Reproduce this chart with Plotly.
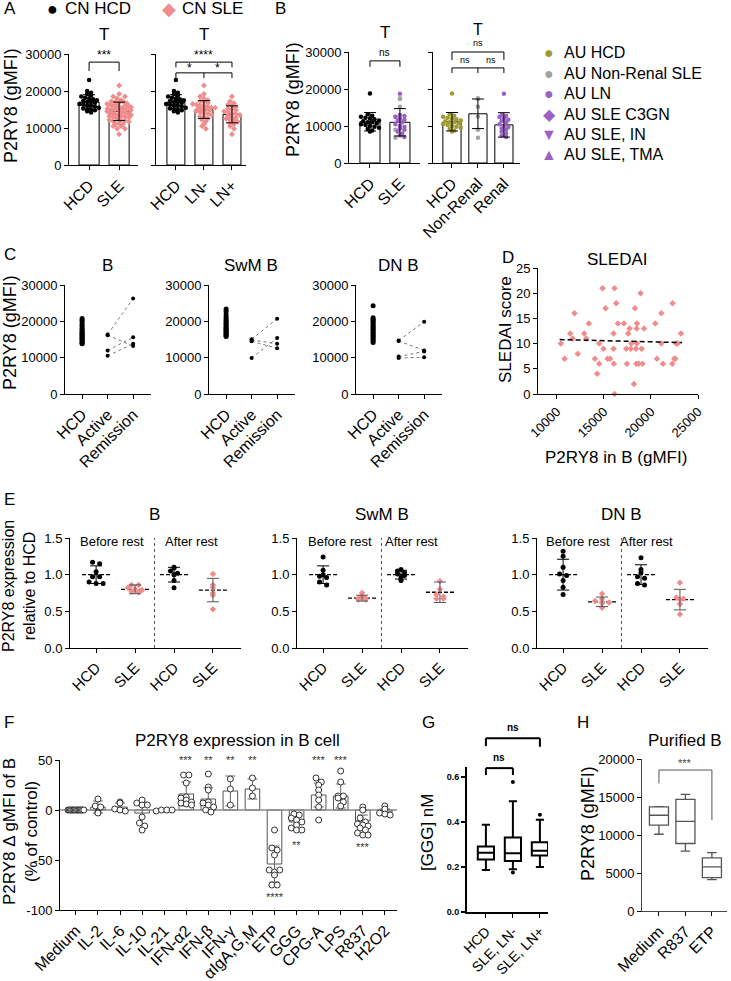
import numpy as np
import plotly.graph_objects as go

W, H = 731, 981
FONT = "Liberation Sans, Arial, sans-serif"
NARROW = "Liberation Sans Narrow, Liberation Sans, Arial, sans-serif"
PINK = "#F08C8C"
OLIVE = "#9E9B35"
GREY = "#A3A3A3"
PURPLE = "#9B62C4"

# ---------------- data ----------------
# Panel A : CN cohort, T cells (gMFI)
A_HCD = [23000, 20000, 19500, 19200, 18800, 18500, 18200, 18000, 17800, 17500, 17300, 17000, 17000,
         16800, 16500, 16300, 16000, 16000, 15800, 15500, 15300, 15000, 15000, 14800, 14500, 14200]
A_LN_NEG = [21500, 19200, 18500, 18000, 17500, 17200, 17000, 16800, 16500, 16300, 16000, 16000, 15800,
            15500, 15500, 15200, 15000, 15000, 14800, 14500, 14300, 14000, 13800, 13500, 13200, 13000,
            12600, 12200, 11800, 11000, 10500, 9800]
A_LN_POS = [18500, 17200, 16700, 16300, 16000, 15600, 15300, 15000, 14800, 14500, 14300, 14000, 13800,
            13500, 13300, 13000, 12800, 12500, 12200, 12000, 11700, 11300, 11000, 10500, 9800, 8300]
A1_CATS = ["HCD", "SLE"]
A1_MEAN = [17000, 14500]
A1_SD = [2000, 2500]
A2_CATS = ["HCD", "LN-", "LN+"]
A2_MEAN = [17000, 15000, 13700]
A2_SD = [2000, 2400, 2300]

# Panel B : AU cohort, T cells (gMFI)
B_HCD = [18800, 13200, 12800, 12500, 12200, 12000, 11800, 11500, 11300, 11000, 11000, 10700, 10500,
         10300, 10000, 9800, 9500, 9200, 8800, 8500]
B_NONRENAL = [17500, 17300, 15200, 12600, 9000, 6800]
B_RENAL = [18700, 13000, 12700, 12400, 12000, 11700, 11400, 11000, 10500, 10000, 9700, 9300, 9000,
           8500, 8000, 7400, 7000]
B1_CATS = ["HCD", "SLE"]
B1_MEAN = [11150, 11000]
B1_SD = [2500, 3700]
B2_CATS = ["HCD", "Non-Renal", "Renal"]
B2_MEAN = [11150, 13300, 10300]
B2_SD = [2500, 4000, 3300]
LEGEND_B = [("●", OLIVE, "AU HCD"), ("●", GREY, "AU Non-Renal SLE"), ("●", PURPLE, "AU LN"),
            ("◆", PURPLE, "AU SLE C3GN"), ("▼", PURPLE, "AU SLE, IN"), ("▲", PURPLE, "AU SLE, TMA")]

# Panel C : paired active / remission
C_CATS = ["HCD", "Active", "Remission"]
C_TITLES = ["B", "SwM B", "DN B"]
C_HCD = [
    [20800, 20300, 19800, 19200, 18700, 18200, 17800, 17400, 17000, 16700, 16400, 16100, 15800, 15500,
     15200, 14900, 14600, 14300, 14000, 13800],
    [23400, 22800, 22000, 21300, 20800, 20300, 19900, 19500, 19100, 18700, 18400, 18100, 17800, 17500,
     17200, 16900, 16600, 16300, 16000, 15800],
    [24300, 21000, 20600, 20200, 19800, 19400, 19000, 18600, 18200, 17800, 17400, 17000, 16600, 16200,
     15800, 15400, 15000, 14600, 14200],
]
C_ACTIVE = [[16400, 16200, 12000, 10500], [15100, 14900, 14500, 9900], [14700, 14600, 10300, 9900]]
C_REMISSION = [[26300, 13200, 15600, 13800], [20700, 13800, 12600, 15400], [19900, 12000, 11700, 10100]]

# Panel D : SLEDAI vs P2RY8
D_X = [10430, 10820, 11420, 11670, 11880, 12230, 12910, 13120,
       13400, 14040, 14290, 14500, 14500, 14860, 14960, 15180,
       15390, 15670, 16030, 16030, 16060, 16130, 16130, 16310,
       16490, 17130, 17380, 17450, 17590, 17730, 17840, 17910,
       18190, 18300, 18400, 18480, 18510, 18510, 18440, 18690,
       18900, 19010, 19110, 19260, 20460, 20640, 21100, 21100,
       21280, 22270, 22300, 22480, 22590, 22660, 22840, 23190]
D_Y = [10, 7, 12, 11, 16, 8, 12, 11,
       14, 7, 4, 6, 10, 21, 9, 17,
       7, 7, 12, 9, 6, 21, 0, 18,
       14, 14, 9, 6, 12, 13, 9, 10,
       2, 17, 9, 13, 10, 14, 6, 6,
       20, 9, 6, 13, 14, 7, 16, 10,
       6, 6, 18, 7, 7, 10, 10, 12]
D_FIT_X = [10300, 23300]
D_FIT_Y = [10.8, 10.2]

# Panel E : relative expression before / after rest
E_TITLES = ["B", "SwM B", "DN B"]
E_CATS = ["HCD", "SLE", "HCD", "SLE"]
E_B = [[1.17, 1.15, 1.04, 0.97, 0.97, 0.90, 0.88, 0.88], [0.86, 0.86, 0.82, 0.80, 0.79, 0.77, 0.76],
       [1.10, 1.09, 1.05, 1.02, 1.00, 0.92, 0.82], [1.01, 0.86, 0.82, 0.75, 0.72, 0.53]]
E_B_MEAN = [1.0, 0.80, 1.0, 0.79]
E_B_SD = [0.12, 0.06, 0.10, 0.16]
E_SWM = [[1.24, 1.06, 1.00, 0.98, 0.96, 0.90, 0.86], [0.75, 0.71, 0.68, 0.68, 0.66, 0.66],
         [1.07, 1.05, 1.03, 1.01, 0.99, 0.96, 0.92], [0.91, 0.80, 0.73, 0.70, 0.67, 0.67]]
E_SWM_MEAN = [1.0, 0.68, 1.0, 0.76]
E_SWM_SD = [0.12, 0.04, 0.06, 0.14]
E_DN = [[1.32, 1.25, 1.10, 1.01, 0.99, 0.92, 0.83, 0.73], [0.74, 0.67, 0.64, 0.63, 0.62, 0.61, 0.55],
        [1.23, 1.07, 1.03, 0.97, 0.95, 0.88, 0.86], [0.89, 0.69, 0.67, 0.66, 0.60, 0.46]]
E_DN_MEAN = [1.0, 0.63, 1.0, 0.66]
E_DN_SD = [0.21, 0.065, 0.135, 0.14]

# Panel F : stimulation
F_CATS = ["Medium", "IL-2", "IL-6", "IL-10", "IL-21", "IFN-α2", "IFN-β", "IFN-γ", "αIgA,G,M",
          "ETP", "GGG", "CPG-A", "LPS", "R837", "H2O2"]
F_MEAN = [0, 3, 3, -3, -1, 16, 11, 19, 21, -54, -12, 15, 14, -11, -2]
F_SD = [0, 6, 4, 11, 1, 12, 11, 15, 10, 18, 7, 12, 12, 6, 3]
F_MEDIUM = [0] * 14
F_IL2 = [11, 4, 3, -2, -3]
F_IL6 = [8, 7, 1, 0, -1]
F_IL10 = [10, 7, 5, 5, -7, -13, -16, -20]
F_IL21 = [-1, 0, 0, 0]
F_IFNA2 = [35, 35, 27, 13, 12, 10, 8, 7, 6, 5]
F_IFNB = [36, 23, 20, 8, 7, 5, 3, 0, -2]
F_IFNG = [31, 21, 5]
F_AIG = [32, 22, 14]
F_ETP = [-20, -38, -40, -45, -60, -62, -60, -65, -75, -75]
F_GGG = [-4, -5, -8, -10, -12, -15, -18, -20, -20]
F_CPGA = [32, 28, 25, 20, 15, 10, 3, -10]
F_LPS = [39, 28, 14, 14, 12, 8, 4]
F_R837 = [3, 0, -8, -12, -14, -15, -16, -18, -20, -23, -25, -25]
F_H2O2 = [4, 1, -3, -4, -5]
F_POINTS = [F_MEDIUM, F_IL2, F_IL6, F_IL10, F_IL21, F_IFNA2, F_IFNB, F_IFNG, F_AIG, F_ETP, F_GGG,
            F_CPGA, F_LPS, F_R837, F_H2O2]
F_SIG_TOP = {5: "***", 6: "**", 7: "**", 8: "**", 11: "***", 12: "***"}
F_SIG_BOTTOM = {9: ("****", -87), 10: ("**", -35), 13: ("***", -37)}

# Panel G : [GGG] nM box plot
G_CATS = ["HCD", "SLE, LN-", "SLE, LN+"]
G_Q1 = [0.234, 0.227, 0.251]
G_MED = [0.264, 0.261, 0.273]
G_Q3 = [0.291, 0.331, 0.310]
G_LO = [0.187, 0.190, 0.200]
G_HI = [0.388, 0.493, 0.410]
G_OUT_X = [1, 1, 2]
G_OUT_Y = [0.578, 0.176, 0.433]

# Panel H : purified B
H_CATS = ["Medium", "R837", "ETP"]
H_Q1 = [11300, 8880, 4400]
H_MED = [12600, 11800, 5800]
H_Q3 = [13700, 14700, 7000]
H_LO = [10100, 7870, 4130]
H_HI = [13720, 15340, 7690]

# ---------------- helpers ----------------
fig = go.Figure()
fig.update_layout(width=W, height=H, margin=dict(l=0, r=0, t=0, b=0, pad=0, autoexpand=False),
                  autosize=False, template="none",
                  paper_bgcolor="white", plot_bgcolor="white", showlegend=False,
                  font=dict(family=FONT, color="black"))

AX = {}
BASE = dict(showline=True, linecolor="black", linewidth=1, ticks="outside", ticklen=4, tickwidth=1,
            tickcolor="black", showgrid=False, zeroline=False, fixedrange=True, automargin=False,
            mirror=False, tickfont=dict(size=13, family=FONT, color="black"))


def axes(key, box, xr, yr, xo=None, yo=None):
    n = len(AX) + 1
    s = "" if n == 1 else str(n)
    x0, x1, y0, y1 = box
    xa = dict(BASE, domain=[x0 / W, x1 / W], anchor="y" + s, range=list(xr))
    ya = dict(BASE, domain=[1 - y1 / H, 1 - y0 / H], anchor="x" + s, range=list(yr))
    if xo:
        xa.update(xo)
    if yo:
        ya.update(yo)
    fig.update_layout({"xaxis" + s: xa, "yaxis" + s: ya})
    AX[key] = (box, xr, yr, "x" + s, "y" + s)
    return "x" + s, "y" + s


def to_paper(key, x, y):
    (x0, x1, y0, y1), xr, yr, _, _ = AX[key]
    px = x0 + (x - xr[0]) / (xr[1] - xr[0]) * (x1 - x0)
    py = y1 - (y - yr[0]) / (yr[1] - yr[0]) * (y1 - y0)
    return px / W, 1 - py / H


def text_px(px, py, s, size=13, xanchor="center", yanchor="middle", angle=0, color="black", family=FONT):
    fig.add_annotation(x=px / W, y=1 - py / H, xref="paper", yref="paper", text=s, showarrow=False,
                       font=dict(size=size, color=color, family=family), xanchor=xanchor,
                       yanchor=yanchor, textangle=angle, borderpad=0)


def text_data(key, x, y, s, size=11, color="black", family=FONT, yanchor="middle"):
    px, py = to_paper(key, x, y)
    fig.add_annotation(x=px, y=py, xref="paper", yref="paper", text=s, showarrow=False,
                       font=dict(size=size, color=color, family=family), xanchor="center",
                       yanchor=yanchor, borderpad=0)


def seg(key, xa_, ya_, xb_, yb_, color="black", width=1):
    p1 = to_paper(key, xa_, ya_)
    p2 = to_paper(key, xb_, yb_)
    fig.add_shape(type="line", xref="paper", yref="paper", x0=p1[0], y0=p1[1], x1=p2[0], y1=p2[1],
                  line=dict(color=color, width=width))


def bracket(key, xa_, xb_, yline, yleg_a, yleg_b, color="black", width=1, mids=()):
    seg(key, xa_, yleg_a, xa_, yline, color, width)
    seg(key, xa_, yline, xb_, yline, color, width)
    seg(key, xb_, yline, xb_, yleg_b, color, width)
    for xm in mids:
        seg(key, xm, yline, xm, yleg_b, color, width)


def swarm(vals, center, binsize, dx, maxw=0.4):
    v = np.asarray(vals, float)
    bins = np.round(v / binsize).astype(int)
    xs = np.full(len(v), float(center))
    for b in np.unique(bins):
        idx = np.where(bins == b)[0]
        k = len(idx)
        d = dx
        if k > 1 and (k - 1) * d / 2 > maxw:
            d = 2 * maxw / (k - 1)
        xs[idx] = center + (np.arange(k) - (k - 1) / 2) * d
    return xs


def cat_x(cats, size=16):
    return dict(tickvals=list(range(len(cats))), ticktext=cats, tickangle=-45,
                tickfont=dict(size=size, family=FONT, color="black"))


def points(xr, yr, xs, ys, color, symbol="circle", size=5, line=None):
    m = dict(color=color, size=size, symbol=symbol)
    if line:
        m["line"] = line
    fig.add_trace(go.Scatter(x=xs, y=ys, mode="markers", marker=m, cliponaxis=False,
                             xaxis=xr, yaxis=yr, hoverinfo="skip"))


def errbars(xr, yr, xs, means, sds, color="black", width=6, thickness=1):
    fig.add_trace(go.Scatter(x=xs, y=means, mode="markers",
                             marker=dict(color="rgba(0,0,0,0)", size=1),
                             error_y=dict(type="data", array=sds, color=color, thickness=thickness,
                                          width=width),
                             xaxis=xr, yaxis=yr, hoverinfo="skip"))


def bars(xr, yr, xs, means, width, line_color="black"):
    fig.add_trace(go.Bar(x=xs, y=means, width=width,
                         marker=dict(color="white", line=dict(color=line_color, width=1)),
                         xaxis=xr, yaxis=yr, hoverinfo="skip"))


GMFI_Y = dict(tickvals=[0, 10000, 20000, 30000], tickformat="d")

# ---------------- Panel A ----------------
text_px(3, 8, "A", 17, xanchor="left")
text_px(52, 9, "●", 18)
text_px(64, 9, "CN HCD", 17, xanchor="left")
text_px(169, 9, "◆", 18, color=PINK)
text_px(181, 9, "CN SLE", 17, xanchor="left")
text_px(11, 106, "P2RY8 (gMFI)", 18, angle=-90)

xa, ya = axes("A1", (69, 138, 54, 165), (-0.67, 1.63), (0, 30000), xo=cat_x(A1_CATS), yo=GMFI_Y)
bars(xa, ya, [0, 1], A1_MEAN, 0.67)
points(xa, ya, swarm(A_HCD, 0, 1000, 0.13), A_HCD, "black", size=4.5)
A_SLE = A_LN_NEG + A_LN_POS
points(xa, ya, swarm(A_SLE, 1, 1000, 0.13), A_SLE, PINK, symbol="diamond", size=4.5)
errbars(xa, ya, [0, 1], A1_MEAN, A1_SD)
text_px(104, 34, "T", 17)
bracket("A1", 0, 1, 27800, 25400, 25400)
text_data("A1", 0.5, 29700, "***", 12)

xa, ya = axes("A2", (156, 246, 54, 165), (-0.71, 2.5), (0, 30000), xo=cat_x(A2_CATS),
              yo=dict(GMFI_Y, showticklabels=False))
bars(xa, ya, [0, 1, 2], A2_MEAN, 0.64)
points(xa, ya, swarm(A_HCD, 0, 1000, 0.14), A_HCD, "black", size=4.5)
points(xa, ya, swarm(A_LN_NEG, 1, 1000, 0.14), A_LN_NEG, PINK, symbol="diamond", size=4.5)
points(xa, ya, swarm(A_LN_POS, 2, 1000, 0.14), A_LN_POS, PINK, symbol="diamond", size=4.5)
errbars(xa, ya, [0, 1, 2], A2_MEAN, A2_SD)
text_px(204, 34, "T", 17)
bracket("A2", 0, 2, 27800, 26400, 26400)
text_data("A2", 1, 29700, "****", 12)
bracket("A2", 0, 2, 24900, 23500, 23500, mids=[1])
text_data("A2", 0.5, 26300, "*", 12)
text_data("A2", 1.5, 26300, "*", 12)

# ---------------- Panel B ----------------
text_px(274, 8, "B", 17, xanchor="left")
text_px(293, 100, "P2RY8 (gMFI)", 18, angle=-90)
xa, ya = axes("B1", (349, 420, 52, 163), (-0.7, 1.67), (0, 30000), xo=cat_x(B1_CATS), yo=GMFI_Y)
bars(xa, ya, [0, 1], B1_MEAN, 0.67)
points(xa, ya, swarm(B_HCD, 0, 1000, 0.15), B_HCD, "black", size=4.5)
B_SLE = B_NONRENAL + B_RENAL
B_SLE_COL = [GREY] * len(B_NONRENAL) + [PURPLE] * len(B_RENAL)
points(xa, ya, swarm(B_SLE, 1, 1000, 0.15), B_SLE, B_SLE_COL, size=4.5)
errbars(xa, ya, [0, 1], B1_MEAN, B1_SD)
text_px(385, 33, "T", 17)
bracket("B1", 0, 1, 27600, 26000, 26000)
text_data("B1", 0.5, 29800, "ns", 10)

xa, ya = axes("B2", (433, 520, 52, 163), (-0.73, 2.62), (0, 30000), xo=cat_x(B2_CATS),
              yo=dict(GMFI_Y, showticklabels=False))
bars(xa, ya, [0, 1, 2], B2_MEAN, 0.7)
points(xa, ya, swarm(B_HCD, 0, 1000, 0.17), B_HCD, OLIVE, size=4.5)
points(xa, ya, swarm(B_NONRENAL, 1, 1000, 0.17), B_NONRENAL, GREY, size=4.5)
points(xa, ya, swarm(B_RENAL, 2, 1000, 0.17), B_RENAL, PURPLE, size=4.5)
errbars(xa, ya, [0, 1, 2], B2_MEAN, B2_SD)
text_px(478, 30, "T", 16)
bracket("B2", 0, 2, 30000, 27800, 27800)
text_data("B2", 1, 32300, "ns", 9)
bracket("B2", 0, 2, 25700, 24300, 24300, mids=[1])
text_data("B2", 0.5, 27900, "ns", 9)
text_data("B2", 1.5, 27900, "ns", 9)

for i, (g, col, lab) in enumerate(LEGEND_B):
    yy = [52, 73, 93, 114, 134, 154][i]
    text_px(549, yy, g, 16, color=col)
    text_px(563, yy, lab, 16, xanchor="left")

# ---------------- Panel C ----------------
text_px(3, 255, "C", 17, xanchor="left")
text_px(10, 333, "P2RY8 (gMFI)", 18, angle=-90)
for i, a in enumerate([65, 209, 356]):
    key = "C%d" % i
    xa, ya = axes(key, (a, a + 86, 285, 394), (-0.67, 2.7), (0, 30000), xo=cat_x(C_CATS), yo=GMFI_Y)
    points(xa, ya, [0] * len(C_HCD[i]), C_HCD[i], "black", size=5)
    for act, rem in zip(C_ACTIVE[i], C_REMISSION[i]):
        fig.add_trace(go.Scatter(x=[1, 2], y=[act, rem], mode="lines+markers",
                                 line=dict(color="#777777", width=1, dash="dot"),
                                 marker=dict(color="black", size=4), cliponaxis=False,
                                 xaxis=xa, yaxis=ya, hoverinfo="skip"))
    text_px(a + 42, 266, C_TITLES[i], 17)

# ---------------- Panel D ----------------
text_px(501, 257, "D", 17, xanchor="left")
xa, ya = axes("D", (538, 698, 268, 394), (8000, 25000), (0, 25),
              xo=dict(tickvals=[10000, 15000, 20000, 25000], tickformat="d", tickangle=-45),
              yo=dict(tickvals=[0, 5, 10, 15, 20, 25]))
points(xa, ya, D_X, D_Y, PINK, symbol="diamond", size=5)
fig.add_trace(go.Scatter(x=D_FIT_X, y=D_FIT_Y, mode="lines", line=dict(color="black", width=1.5, dash="5px,3px"),
                         xaxis=xa, yaxis=ya, hoverinfo="skip"))
text_px(617, 259, "SLEDAI", 17)
text_px(505, 330, "SLEDAI score", 17, angle=-90)
text_px(616, 457, "P2RY8 in B (gMFI)", 17)

# ---------------- Panel E ----------------
text_px(3, 500, "E", 17, xanchor="left")
text_px(19, 586, "P2RY8 expression<br>relative to HCD", 16, angle=-90)
E_SETS = [(E_B, E_B_MEAN, E_B_SD), (E_SWM, E_SWM_MEAN, E_SWM_SD), (E_DN, E_DN_MEAN, E_DN_SD)]
BEFORE_X = [112, 340, 578]
AFTER_X = [191, 411, 646]
for i, a in enumerate([70, 297, 537]):
    key = "E%d" % i
    xa, ya = axes(key, (a, a + 171, 538, 648), (-0.67, 3.72), (0, 1.5), xo=cat_x(E_CATS, 15),
                  yo=dict(tickvals=[0, 0.5, 1.0, 1.5], tickformat=".1f"))
    groups, means, sds = E_SETS[i]
    fig.add_trace(go.Scatter(x=[1.5, 1.5], y=[0, 1.5], mode="lines",
                             line=dict(color="#555555", width=1, dash="dot"),
                             xaxis=xa, yaxis=ya, hoverinfo="skip"))
    for g in range(4):
        hcd = (g % 2 == 0)
        fig.add_trace(go.Scatter(x=[g - 0.36, g + 0.36], y=[means[g], means[g]], mode="lines",
                                 line=dict(color="black", width=1.3, dash="4px,2px"),
                                 xaxis=xa, yaxis=ya, hoverinfo="skip"))
        points(xa, ya, swarm(groups[g], g, 0.04, 0.18), groups[g],
               "black" if hcd else PINK, symbol="circle" if hcd else "diamond", size=5)
        errbars(xa, ya, [g], [means[g]], [sds[g]], color="black" if hcd else "#555555", width=6)
    px_title, _ = to_paper(key, 1.5, 0)
    text_px(px_title * W, 514, E_TITLES[i], 17)
    text_px(BEFORE_X[i], 541, "Before rest", 13)
    text_px(AFTER_X[i], 541, "After rest", 13)

# ---------------- Panel F ----------------
text_px(3, 722, "F", 17, xanchor="left")
text_px(20, 832, "P2RY8 Δ gMFI of B<br>(% of control)", 17, angle=-90)
xa, ya = axes("F", (60, 397, 760, 910), (-0.72, 14.55), (-100, 50), xo=cat_x(F_CATS, 16),
              yo=dict(tickvals=[-100, -50, 0, 50], ticktext=["-100", "-50", "0", "50"]))
bars(xa, ya, list(range(len(F_CATS))), F_MEAN, 0.66, line_color="#555555")
fig.add_trace(go.Scatter(x=[-0.72, 14.55], y=[0, 0], mode="lines", line=dict(color="#8a8a8a", width=1.5),
                         xaxis=xa, yaxis=ya, hoverinfo="skip"))
errbars(xa, ya, list(range(len(F_CATS))), F_MEAN, F_SD, color="#666666", width=5)
for i, pts in enumerate(F_POINTS):
    points(xa, ya, swarm(pts, i, 5, 0.24, maxw=0.36), pts, "white", size=6,
           line=dict(color="#333333", width=1))
for i, s in F_SIG_TOP.items():
    text_data("F", i, 50, s, 11, color="#333333")
for i, (s, yv) in F_SIG_BOTTOM.items():
    text_data("F", i, yv, s, 11, color="#333333")
text_px(237, 740, "P2RY8 expression in B cell", 17)

# ---------------- Panel G ----------------
text_px(421, 722, "G", 17, xanchor="left")
text_px(427, 833, "[GGG] nM", 17, angle=-90)
xa, ya = axes("G", (467, 548, 767, 912), (-0.7, 2.3), (0, 0.645), xo=dict(cat_x(G_CATS, 14), linewidth=2),
              yo=dict(tickvals=[0, 0.2, 0.4, 0.6], tickformat=".1f", linewidth=2, tickwidth=2,
                      tickfont=dict(size=9, family=NARROW, color="black", weight="bold")))
fig.add_trace(go.Box(x=[0, 1, 2], q1=G_Q1, median=G_MED, q3=G_Q3, lowerfence=G_LO, upperfence=G_HI,
                     width=0.6, whiskerwidth=0.5, line=dict(color="black", width=2), fillcolor="white",
                     boxpoints=False, xaxis=xa, yaxis=ya, hoverinfo="skip"))
points(xa, ya, G_OUT_X, G_OUT_Y, "black", size=4)
bracket("G", 0, 2, 0.773, 0.738, 0.735, width=2)
text_data("G", 1, 0.82, "<b>ns</b>", 10, family=NARROW)
bracket("G", 0, 1, 0.64, 0.609, 0.609, width=2)
text_data("G", 0.5, 0.689, "<b>ns</b>", 10, family=NARROW)

# ---------------- Panel H ----------------
text_px(576, 722, "H", 17, xanchor="left")
text_px(588, 824, "P2RY8 (gMFI)", 18, angle=-90)
xa, ya = axes("H", (642, 727, 759, 911), (-0.64, 2.57), (0, 20000), xo=dict(cat_x(H_CATS, 16), linecolor="#444444"),
              yo=dict(tickvals=[0, 5000, 10000, 15000, 20000], tickformat="d", linecolor="#444444"))
fig.add_trace(go.Box(x=[0, 1, 2], q1=H_Q1, median=H_MED, q3=H_Q3, lowerfence=H_LO, upperfence=H_HI,
                     width=0.72, whiskerwidth=0.5, line=dict(color="#555555", width=1.3), fillcolor="white",
                     boxpoints=False, xaxis=xa, yaxis=ya, hoverinfo="skip"))
bracket("H", 0, 2, 18550, 16800, 11960, color="#555555")
text_data("H", 1, 19500, "***", 11, color="#444444")
text_px(685, 740, "Purified B", 17)

fig.write_html("out.html", config={"displayModeBar": False, "staticPlot": True},
               post_script="document.body.style.margin='0px';document.body.style.padding='0px';"
                           "document.documentElement.style.overflow='hidden';")
